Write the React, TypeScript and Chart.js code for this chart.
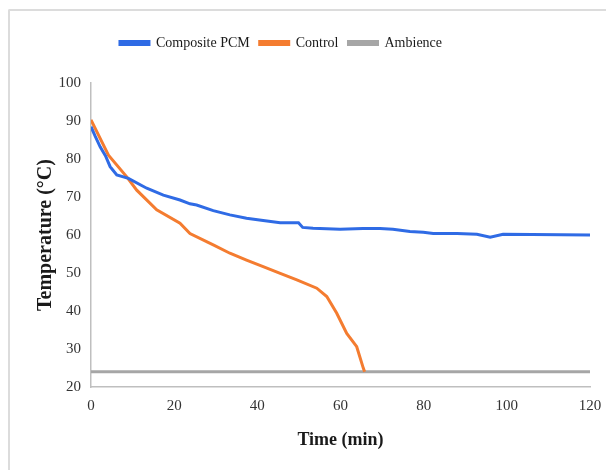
import React, { useEffect, useRef } from "react";
import { Chart, registerables } from "chart.js";

Chart.register(...registerables);

const pcmTime = [0, 1, 2.2, 3.5, 4.6, 6.2, 9, 13.4, 17.4, 21.4, 23.8, 25.4, 29.4, 33.4, 37.4, 41.4, 45.5, 49.9, 50.9, 53.4, 59.9, 65.4, 69.5, 72.6, 76.7, 79.9, 82.3, 88, 92.8, 96, 99.1, 120];
const pcmTemp = [88.5, 86, 83.2, 80.8, 78, 75.8, 74.9, 72.3, 70.5, 69.2, 68.2, 67.9, 66.4, 65.3, 64.4, 63.8, 63.2, 63.2, 62, 61.8, 61.5, 61.7, 61.7, 61.5, 60.9, 60.7, 60.4, 60.4, 60.2, 59.4, 60.2, 60];

const controlTime = [0, 4.2, 8.6, 11, 15.8, 21.4, 23.8, 29.4, 33.4, 37.4, 41.4, 45.5, 49.5, 54.3, 56.7, 59.1, 61.5, 63.9, 65.5, 65.8];
const controlTemp = [90.3, 81, 75.3, 71.8, 66.6, 63.1, 60.4, 57.4, 55.2, 53.4, 51.7, 49.9, 48.2, 46, 43.8, 39.4, 34.1, 30.6, 24.9, 24];

const ambienceTime = [0, 120];
const ambienceTemp = [24, 24];

const xTicks = [0, 20, 40, 60, 80, 100, 120];
const yTicks = [20, 30, 40, 50, 60, 70, 80, 90, 100];

const toPoints = (xs: number[], ys: number[]) => xs.map((x, i) => ({ x, y: ys[i] }));

const FONT = "'Liberation Serif', 'Times New Roman', serif";

const legendTweak = {
  id: "legendTweak",
  afterInit(chart: any) {
    const lg = chart.legend;
    if (lg && !lg.__patched) {
      const orig = lg.fit.bind(lg);
      lg.fit = () => {
        orig();
        lg.height += 23;
      };
      lg.__patched = true;
    }
  },
  afterLayout(chart: any) {
    const lg = chart.legend;
    if (lg) lg.right -= 58;
  },
};

export default function App() {
  const ref = useRef<HTMLCanvasElement | null>(null);

  useEffect(() => {
    if (!ref.current) return;
    const chart = new Chart(ref.current, {
      type: "line",
      data: {
        datasets: [
          {
            label: "Composite PCM",
            data: toPoints(pcmTime, pcmTemp),
            borderColor: "#2F6BE5",
            backgroundColor: "#2F6BE5",
            borderWidth: 3,
            pointRadius: 0,
            tension: 0,
          },
          {
            label: "Control",
            data: toPoints(controlTime, controlTemp),
            borderColor: "#F47C30",
            backgroundColor: "#F47C30",
            borderWidth: 3,
            pointRadius: 0,
            tension: 0,
          },
          {
            label: "Ambience",
            data: toPoints(ambienceTime, ambienceTemp),
            borderColor: "#A6A6A6",
            backgroundColor: "#A6A6A6",
            borderWidth: 3,
            pointRadius: 0,
            tension: 0,
          },
        ],
      },
      plugins: [legendTweak],
      options: {
        animation: false,
        responsive: false,
        maintainAspectRatio: false,
        layout: { padding: { left: 30, right: 16, top: 26, bottom: 15 } },
        plugins: {
          tooltip: { enabled: false },
          legend: {
            position: "top",
            labels: {
              boxWidth: 29,
              boxHeight: 3,
              color: "#1a1a1a",
              font: { family: FONT, size: 14 },
              padding: 10,
            },
          },
        },
        scales: {
          x: {
            type: "linear",
            min: 0,
            max: 120,
            afterBuildTicks: (s: any) => {
              s.ticks = xTicks.map((v) => ({ value: v }));
            },
            afterFit: (s: any) => {
              s.height = 68;
              s.paddingLeft = 0;
              s.paddingRight = 0;
            },
            grid: { display: false, drawTicks: false },
            border: { color: "#BFBFBF", width: 1.5 },
            ticks: { color: "#333333", font: { family: FONT, size: 15 }, padding: 10, maxRotation: 0 },
            title: {
              display: true,
              text: "Time (min)",
              color: "#1a1a1a",
              font: { family: FONT, size: 18, weight: "bold" },
              padding: { top: 6 },
            },
          },
          y: {
            type: "linear",
            min: 20,
            max: 100,
            afterBuildTicks: (s: any) => {
              s.ticks = yTicks.map((v) => ({ value: v }));
            },
            afterFit: (s: any) => {
              s.width = 61;
            },
            grid: { display: false, drawTicks: false },
            border: { color: "#BFBFBF", width: 1.5 },
            ticks: { color: "#333333", font: { family: FONT, size: 15 }, padding: 10 },
            title: {
              display: true,
              text: "Temperature (°C)",
              color: "#1a1a1a",
              font: { family: FONT, size: 20, weight: "bold" },
              padding: { bottom: 3 },
            },
          },
        },
      },
    } as any);
    return () => chart.destroy();
  }, []);

  return (
    <div style={{ position: "absolute", left: 0, top: 0, width: 606, height: 470, background: "#fff" }}>
      <div
        style={{
          position: "absolute",
          left: 8,
          top: 9,
          width: 598,
          height: 461,
          borderTop: "2px solid #DCDCDC",
          borderLeft: "2px solid #DCDCDC",
          borderTopLeftRadius: 2,
        }}
      />
      <canvas ref={ref} width={606} height={470} style={{ position: "absolute", left: 0, top: 0 }} />
    </div>
  );
}
